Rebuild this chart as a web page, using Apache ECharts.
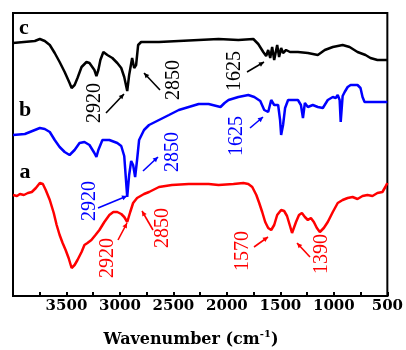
<!DOCTYPE html>
<html><head><meta charset="utf-8">
<script src="https://cdn.jsdelivr.net/npm/echarts@6/dist/echarts.min.js"></script>
<style>html,body{margin:0;padding:0;background:#fff}#c{width:406px;height:350px}</style>
</head><body><div id="c"></div>
<script>
// ---- Data (transmittance in arbitrary offset units) ----
const blackWn=[4000,3796,3749,3703,3656,3610,3564,3517,3471,3452,3424,3397,3359,3313,3285,3239,3220,3202,3183,3155,3118,3071,3025,2988,2960,2932,2914,2886,2867,2849,2830,2802,2635,2450,2264,2078,1893,1753,1707,1660,1633,1614,1595,1577,1558,1540,1530,1512,1493,1475,1447,1410,1336,1243,1150,1085,1010,918,853,779,704,658,593,546,500];
const blackT=[253,255,257,255,251,243,234,224,213,208,211,218,229,234,233,226,220,226,236,244,241,238,233,228,219,205,221,238,228,231,251,254,254,255,256,257,256,257,252,244,240,246,238,249,236,234,251,239,248,243,246,244,244,243,241,246,249,251,249,244,241,238,236,236,236];

const blueWn=[4000,3889,3749,3703,3656,3610,3564,3517,3471,3424,3378,3332,3285,3239,3220,3202,3164,3099,3025,2988,2960,2932,2914,2895,2877,2858,2840,2821,2775,2728,2635,2542,2450,2357,2264,2171,2097,2060,2022,1985,1893,1800,1744,1688,1651,1614,1586,1558,1521,1503,1493,1475,1456,1428,1336,1308,1289,1271,1243,1197,1150,1103,1057,1010,983,964,946,936,918,899,871,843,779,751,732,713,686,593,500];
const blueT=[161,162,168,167,164,156,149,144,141,146,153,154,151,143,139,146,156,156,153,150,140,99,121,135,131,119,136,156,166,171,176,181,186,189,192,192,190,189,193,196,199,201,199,195,186,184,196,191,191,176,161,171,188,196,196,191,178,193,189,191,189,188,196,199,198,201,196,174,200,204,209,211,211,208,199,194,194,194,194];

const redWn=[4000,3963,3935,3898,3861,3824,3786,3749,3721,3694,3656,3619,3592,3564,3536,3508,3480,3452,3424,3397,3359,3332,3304,3267,3229,3192,3146,3099,3062,3025,2988,2960,2932,2904,2877,2840,2775,2728,2635,2515,2357,2171,2078,1939,1846,1800,1763,1725,1698,1670,1642,1614,1586,1558,1530,1493,1465,1438,1410,1391,1373,1354,1326,1299,1271,1243,1215,1187,1159,1131,1094,1057,1010,964,918,871,825,779,732,686,639,593,546,519,500];
const redT=[101,100,102,101,103,104,108,113,112,106,96,83,71,61,53,46,38,28,31,36,44,51,53,56,61,66,74,81,84,84,82,79,74,84,93,98,102,104,109,111,112,112,111,112,113,112,109,101,93,84,74,68,66,71,81,86,85,80,70,63,62,74,81,83,79,76,78,74,68,64,68,74,84,93,96,98,99,97,100,101,100,103,104,109,113];

const tickValues=[3500,3000,2500,2000,1500,1000,500];
const curveNames=['a','b','c'];
const peakLabels={c:['2920','2850','1625'], b:['2920','2850','1625'], a:['2920','2850','1570','1390']};

// ---- Layout (pixel positions of annotations) ----
const COL={a:'#ff0000', b:'#0000ff', c:'#000000'};
const notes=[
 {s:'c',t:peakLabels.c[0],x:95,y:103,a:[106,113,124,94]},
 {s:'c',t:peakLabels.c[1],x:174,y:80,a:[160,90,144,73]},
 {s:'c',t:peakLabels.c[2],x:235,y:71,a:[247,72,264,62]},
 {s:'b',t:peakLabels.b[0],x:90,y:201,a:[98,208,127,196]},
 {s:'b',t:peakLabels.b[1],x:173,y:152,a:[143,171,158,157]},
 {s:'b',t:peakLabels.b[2],x:237,y:136,a:[250,128,263,117]},
 {s:'a',t:peakLabels.a[0],x:108,y:258,a:[118,240,127,223]},
 {s:'a',t:peakLabels.a[1],x:163,y:228,a:[153,230,142,211]},
 {s:'a',t:peakLabels.a[2],x:243,y:251,a:[254,247,268,237]},
 {s:'a',t:peakLabels.a[3],x:322,y:254,a:[310,257,297,243]}
];
const letterPos={c:[24,28],b:[25,110],a:[25,172]};

function pair(a,b){return a.map((v,i)=>[v,b[i]]);}
const graphic=[];
notes.forEach(n=>{
  const c=COL[n.s];
  graphic.push({type:'text',x:n.x,y:n.y,rotation:Math.PI/2,z:10,
    style:{text:n.t,fill:c,fontFamily:'Liberation Serif',fontSize:20,align:'center',verticalAlign:'middle'}});
  const [x1,y1,x2,y2]=n.a;
  graphic.push({type:'line',z:10,shape:{x1,y1,x2,y2},style:{stroke:c,lineWidth:1.6}});
  const ang=Math.atan2(y2-y1,x2-x1),L=5,W=2.5;
  const bx=x2-L*Math.cos(ang), by=y2-L*Math.sin(ang);
  graphic.push({type:'polygon',z:10,shape:{points:[[x2,y2],[bx+W*Math.sin(ang),by-W*Math.cos(ang)],[bx-W*Math.sin(ang),by+W*Math.cos(ang)]]},style:{fill:c}});
});
curveNames.forEach(k=>{
  graphic.push({type:'text',x:letterPos[k][0],y:letterPos[k][1],z:10,
    style:{text:k,fill:'#000',fontFamily:'Liberation Serif',fontWeight:'bold',fontSize:22,align:'center',verticalAlign:'middle'}});
});
// axis title with superscript
(function(){
  const cv=document.createElement('canvas').getContext('2d');
  const f1='bold 16px "DejaVu Serif"', f2='bold 10px "DejaVu Serif"';
  const t1='Wavenumber (cm', t2='-1', t3=')';
  cv.font=f1; const w1=cv.measureText(t1).width, w3=cv.measureText(t3).width;
  cv.font=f2; const w2=cv.measureText(t2).width;
  const total=w1+w2+w3, x0=191-total/2, y=340;
  graphic.push({type:'text',x:x0,y:y,style:{text:t1,fill:'#000',fontFamily:'DejaVu Serif',fontWeight:'bold',fontSize:16,align:'left',verticalAlign:'middle'}});
  graphic.push({type:'text',x:x0+w1,y:y-6,style:{text:t2,fill:'#000',fontFamily:'DejaVu Serif',fontWeight:'bold',fontSize:10,align:'left',verticalAlign:'middle'}});
  graphic.push({type:'text',x:x0+w1+w2,y:y,style:{text:t3,fill:'#000',fontFamily:'DejaVu Serif',fontWeight:'bold',fontSize:16,align:'left',verticalAlign:'middle'}});
})();

const chart=echarts.init(document.getElementById('c'),null,{renderer:'canvas'});
const lineSeries=(name,wn,t,color)=>({name,type:'line',data:pair(wn,t),showSymbol:false,symbol:'none',
  lineStyle:{color,width:2.5},itemStyle:{color},smooth:false,animation:false,z:3});
chart.setOption({
  animation:false,
  backgroundColor:'#fff',
  grid:{left:13,right:16,top:13,bottom:54,show:true,borderColor:'#000',borderWidth:2,containLabel:false},
  xAxis:{type:'value',min:500,max:4000,interval:500,inverse:true,
    axisLine:{show:true,lineStyle:{color:'#000',width:2}},
    axisTick:{show:true,inside:true,length:4,lineStyle:{color:'#000',width:2}},
    minorTick:{show:true,splitNumber:2,length:4,lineStyle:{color:'#000',width:2}},
    splitLine:{show:false},
    axisLabel:{margin:3,fontFamily:'DejaVu Serif',fontWeight:'bold',fontSize:15,color:'#000',
      formatter:v=>tickValues.indexOf(v)>=0?String(v):''}},
  yAxis:{type:'value',min:0,max:283,show:false,splitLine:{show:false}},
  series:[lineSeries('c',blackWn,blackT,'#000000'),lineSeries('b',blueWn,blueT,'#0000ff'),lineSeries('a',redWn,redT,'#ff0000')],
  graphic:graphic
});
</script></body></html>
